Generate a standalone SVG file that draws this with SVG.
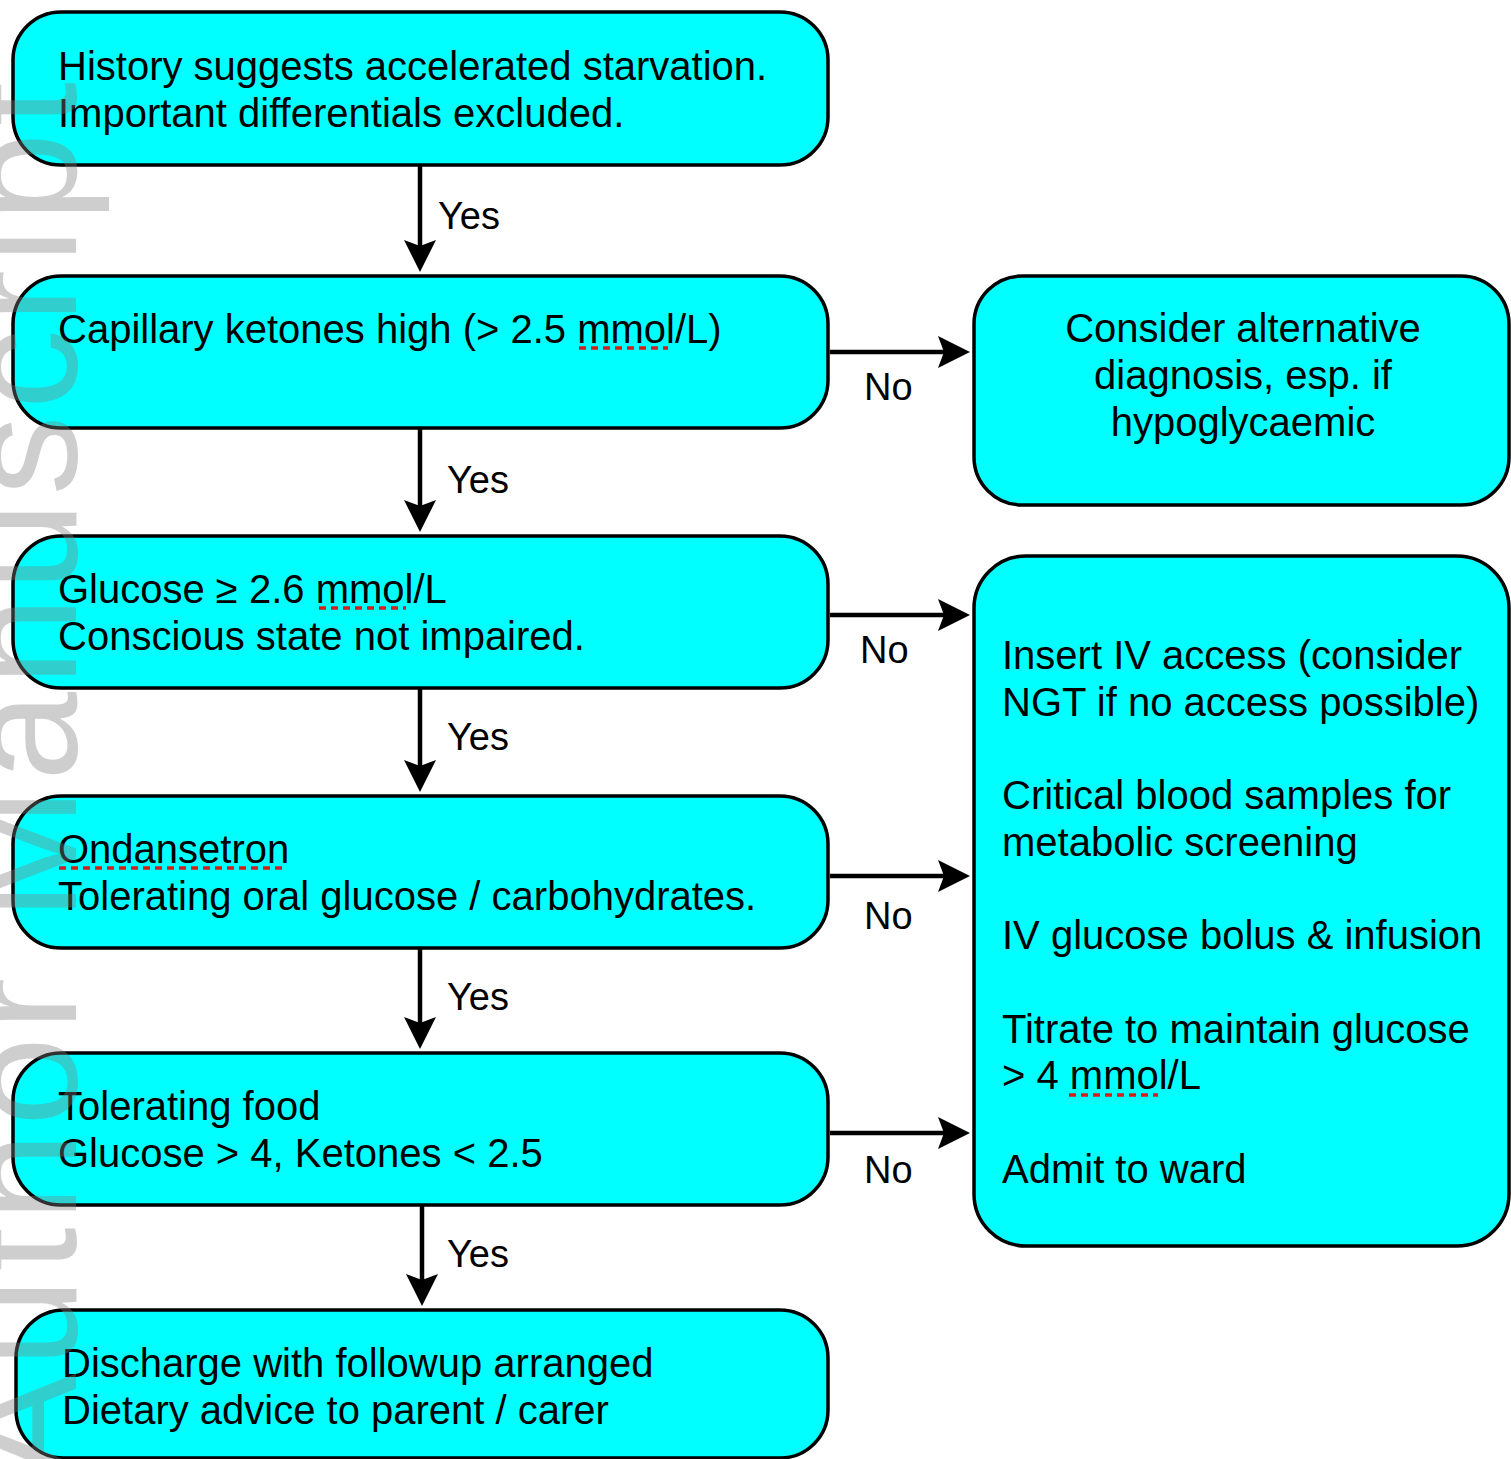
<svg xmlns="http://www.w3.org/2000/svg" width="1511" height="1459" viewBox="0 0 1511 1459">
<defs>
<style>
.box{fill:#00FFFF;stroke:#000;stroke-width:3.5}
.t{font-family:"Liberation Sans",Arial,Helvetica,sans-serif;font-size:40px;fill:#000}
.c{text-anchor:middle}
.lbl{font-family:"Liberation Sans",Arial,Helvetica,sans-serif;font-size:38px;fill:#000}
.conn{stroke:#000;stroke-width:4.5;fill:none;marker-end:url(#ah)}
.sq{stroke:#d81b1b;stroke-width:3.5;stroke-dasharray:7 5;fill:none}
.wm{font-family:"Liberation Sans",Arial,Helvetica,sans-serif;font-size:160px;fill:#808080;opacity:0.38}
</style>
<marker id="ah" markerUnits="userSpaceOnUse" markerWidth="34" markerHeight="34" viewBox="0 0 34 34" refX="22" refY="16" orient="auto">
<path d="M0,0 L32,16 L0,32 L6,16 Z" fill="#000"/>
</marker>
</defs>
<rect width="1511" height="1459" fill="#fff"/>

<g id="n1">
<rect class="box" x="13" y="12" width="815" height="153" rx="48" ry="48"/>
<text class="t" x="58" y="80">History suggests accelerated starvation.</text>
<text class="t" x="58" y="127">Important differentials excluded.</text>
</g>
<g id="n2">
<rect class="box" x="13" y="276" width="815" height="152" rx="48" ry="48"/>
<text class="t" x="58" y="343">Capillary ketones high (&gt; 2.5 mmol/L)</text>
<line class="sq" x1="579" y1="348" x2="668" y2="348"/>
</g>
<g id="n3">
<rect class="box" x="13" y="536" width="815" height="152" rx="48" ry="48"/>
<text class="t" x="58" y="603">Glucose ≥ 2.6 mmol/L</text>
<text class="t" x="58" y="650">Conscious state not impaired.</text>
<line class="sq" x1="319" y1="608" x2="406" y2="608"/>
</g>
<g id="n4">
<rect class="box" x="13" y="796" width="815" height="152" rx="48" ry="48"/>
<text class="t" x="58" y="863">Ondansetron</text>
<text class="t" x="58" y="910">Tolerating oral glucose / carbohydrates.</text>
<line class="sq" x1="59" y1="868" x2="282" y2="868"/>
</g>
<g id="n5">
<rect class="box" x="13" y="1053" width="815" height="152" rx="48" ry="48"/>
<text class="t" x="58" y="1120">Tolerating food</text>
<text class="t" x="58" y="1167">Glucose &gt; 4, Ketones &lt; 2.5</text>
</g>
<g id="n6">
<rect class="box" x="16" y="1310" width="812" height="148" rx="48" ry="48"/>
<text class="t" x="62" y="1377">Discharge with followup arranged</text>
<text class="t" x="62" y="1424">Dietary advice to parent / carer</text>
</g>
<g id="r1">
<rect class="box" x="974" y="276" width="535" height="229" rx="48" ry="48"/>
<text class="t c" x="1243" y="342">Consider alternative</text>
<text class="t c" x="1243" y="389">diagnosis, esp. if</text>
<text class="t c" x="1243" y="436">hypoglycaemic</text>
</g>
<g id="r2">
<rect class="box" x="974" y="556" width="535" height="690" rx="52" ry="52"/>
<text class="t" x="1002" y="669">Insert IV access (consider</text>
<text class="t" x="1002" y="716">NGT if no access possible)</text>
<text class="t" x="1002" y="809">Critical blood samples for</text>
<text class="t" x="1002" y="856">metabolic screening</text>
<text class="t" x="1002" y="949">IV glucose bolus &amp; infusion</text>
<text class="t" x="1002" y="1043">Titrate to maintain glucose</text>
<text class="t" x="1002" y="1089">&gt; 4 mmol/L</text>
<text class="t" x="1002" y="1183">Admit to ward</text>
<line class="sq" x1="1069" y1="1095" x2="1158" y2="1095"/>
</g>

<g id="connectors">
<line class="conn" x1="420" y1="166" x2="420" y2="262"/>
<line class="conn" x1="420" y1="429" x2="420" y2="522"/>
<line class="conn" x1="420" y1="689" x2="420" y2="782"/>
<line class="conn" x1="420" y1="949" x2="420" y2="1039"/>
<line class="conn" x1="422" y1="1206" x2="422" y2="1296"/>
<line class="conn" x1="830" y1="352" x2="960" y2="352"/>
<line class="conn" x1="830" y1="615" x2="960" y2="615"/>
<line class="conn" x1="830" y1="876" x2="960" y2="876"/>
<line class="conn" x1="830" y1="1133" x2="960" y2="1133"/>
<text class="lbl" x="438" y="229">Yes</text>
<text class="lbl" x="447" y="493">Yes</text>
<text class="lbl" x="447" y="750">Yes</text>
<text class="lbl" x="447" y="1010">Yes</text>
<text class="lbl" x="447" y="1267">Yes</text>
<text class="lbl" x="864" y="400">No</text>
<text class="lbl" x="860" y="663">No</text>
<text class="lbl" x="864" y="929">No</text>
<text class="lbl" x="864" y="1183">No</text>
</g>

<g id="watermark">
<text class="wm" transform="translate(76,1480) rotate(-90)" x="0" y="0" textLength="1398" lengthAdjust="spacing">Author Manuscript</text>
</g>
</svg>
